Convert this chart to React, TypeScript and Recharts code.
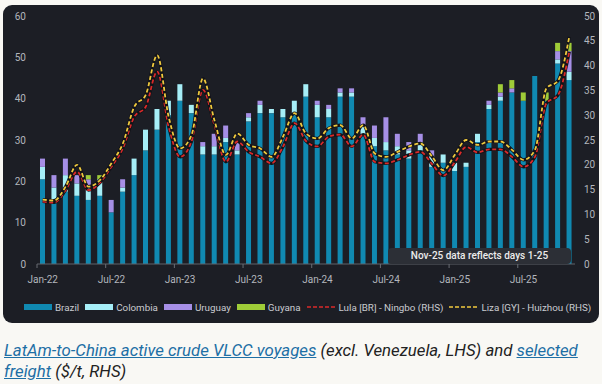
import { ComposedChart, Bar, Line, XAxis, YAxis } from "recharts"

// month categories, Jan-22 .. Nov-25
const months = [
  "Jan-22", "Feb-22", "Mar-22", "Apr-22", "May-22", "Jun-22", "Jul-22", "Aug-22", "Sep-22", "Oct-22", "Nov-22", "Dec-22",
  "Jan-23", "Feb-23", "Mar-23", "Apr-23", "May-23", "Jun-23", "Jul-23", "Aug-23", "Sep-23", "Oct-23", "Nov-23", "Dec-23",
  "Jan-24", "Feb-24", "Mar-24", "Apr-24", "May-24", "Jun-24", "Jul-24", "Aug-24", "Sep-24", "Oct-24", "Nov-24", "Dec-24",
  "Jan-25", "Feb-25", "Mar-25", "Apr-25", "May-25", "Jun-25", "Jul-25", "Aug-25", "Sep-25", "Oct-25", "Nov-25",
]

// active VLCC voyages (LHS)
const brazil = [
  20.5, 15, 17.5, 16.5, 15.5, 16.5, 12.5, 17.5, 21.5, 27.5, 32.5, 36,
  39.5, 36.5, 26.5, 26.5, 29.5, 26.5, 34.5, 36.5, 36.5, 35.5, 36.5, 40.5,
  35.5, 35.5, 40.5, 40.5, 31.5, 28.5, 27.5, 26.5, 25.5, 27.5, 23.5, 24.5,
  22.5, 23.5, 29.5, 37.5, 39.5, 41.5, 39.5, 45.5, 39.5, 48.5, 44.5,
]
const colombia = [
  3, 3.5, 4, 3, 3, 4, 0, 1, 4, 5, 5, 3.5,
  4, 2, 2, 2, 1, 1, 1, 2, 1, 2, 3, 3,
  3, 2, 1, 1, 2, 2, 2, 2, 2, 2, 2.5, 2,
  2, 1, 2, 1, 1, 0, 0, 0, 0, 1, 2,
]
const uruguay = [
  2, 3, 4, 2, 2, 0, 3, 2, 0, 0, 0, 0,
  0, 0, 1, 3, 3, 2, 1, 1, 0, 0, 0, 0,
  1, 1, 1, 1, 2, 3, 6, 3, 2, 2, 1.5, 0,
  0, 0, 0, 1, 1, 1, 0, 0, 0, 2, 5,
]
const guyana = [
  0, 0, 0, 0, 1, 1, 0, 0, 0, 0, 0, 0,
  0, 0, 0, 0, 0, 0, 0, 0, 0, 0, 0, 0,
  0, 0, 0, 0, 0, 0, 0, 0, 0, 0, 0, 0,
  0, 0, 0, 0, 2, 2, 2, 0, 2, 2, 2,
]

// freight $/t (RHS)
const lula = [
  12.6, 12.4, 14.9, 18.6, 14.9, 16.4, 19.6, 23.3, 29.7, 31.7, 38.8, 27.7,
  21.6, 24.7, 35.1, 28.0, 20.6, 24.7, 22.6, 21.6, 20.3, 23.7, 28.4, 24.8,
  23.7, 25.7, 26.1, 23.7, 26.1, 20.6, 20.3, 21.0, 22.0, 22.6, 20.2, 17.8,
  20.5, 23.6, 22.5, 23.1, 23.1, 21.6, 19.6, 21.6, 32.4, 34.0, 42.8,
]
const liza = [
  13.0, 12.8, 15.6, 20.0, 15.6, 16.9, 20.3, 24.3, 31.7, 34.1, 42.1, 29.7,
  23.3, 26.0, 37.4, 29.0, 22.0, 26.3, 24.0, 23.3, 21.6, 25.7, 30.4, 26.3,
  25.3, 27.4, 28.0, 25.3, 28.0, 22.3, 21.6, 22.6, 23.7, 24.3, 21.7, 18.9,
  22.0, 25.0, 24.0, 24.7, 24.7, 23.0, 21.0, 23.0, 35.4, 36.9, 45.8,
]

const leftTicks = [0, 10, 20, 30, 40, 50, 60]
const rightTicks = [0, 5, 10, 15, 20, 25, 30, 35, 40, 45, 50]
const monthTicks = ["Jan-22", "Jul-22", "Jan-23", "Jul-23", "Jan-24", "Jul-24", "Jan-25", "Jul-25"]

const data = months.map((m, i) => ({
  month: m,
  brazil: brazil[i],
  colombia: colombia[i],
  uruguay: uruguay[i],
  guyana: guyana[i],
  lula: lula[i],
  liza: liza[i],
}))

const C_BRAZIL = "#1089b1"
const C_COLOMBIA = "#a6eef7"
const C_URUGUAY = "#a68fe6"
const C_GUYANA = "#9fcc38"
const C_LULA = "#d92a2a"
const C_LIZA = "#efc93e"
const C_AXIS = "#b3b6bd"
const C_LINK = "#1d6fa5"

const CHART_W = 602
const LEFT_W = 37
const RIGHT_W = 27
const BAND = (CHART_W - LEFT_W - RIGHT_W) / months.length

const legendItems = [
  { label: "Brazil", color: C_BRAZIL, dash: false },
  { label: "Colombia", color: C_COLOMBIA, dash: false },
  { label: "Uruguay", color: C_URUGUAY, dash: false },
  { label: "Guyana", color: C_GUYANA, dash: false },
  { label: "Lula [BR] - Ningbo (RHS)", color: C_LULA, dash: true },
  { label: "Liza [GY] - Huizhou (RHS)", color: C_LIZA, dash: true },
]

const MonthTick = (props: any) => {
  const { x, y, payload } = props
  const tx = x - BAND / 2
  return (
    <g>
      <line x1={tx} x2={tx} y1={y} y2={y + 4} stroke="#6a6d74" strokeWidth={1} />
      <text x={x} y={y + 19} textAnchor="middle" fill={C_AXIS} fontSize={10} fontFamily="Roboto, sans-serif">
        {payload.value}
      </text>
    </g>
  )
}

export default function App() {
  return (
    <div style={{ position: "relative", width: 602, height: 384, background: "#f9f8f4", fontFamily: "Roboto, sans-serif", overflow: "hidden" }}>
      <style>{`body{margin:0}`}</style>
      <div style={{ position: "absolute", left: 3, top: 5, width: 596, height: 318, background: "#1c1e25", borderRadius: 9 }} />

      <div style={{ position: "absolute", left: 0, top: 0 }}>
        <ComposedChart width={CHART_W} height={300} data={data} margin={{ top: 16, right: 0, bottom: 0, left: 0 }}>
          <XAxis
            dataKey="month"
            ticks={monthTicks}
            interval={0}
            height={36}
            tickLine={false}
            tickSize={0}
            tickMargin={0}
            axisLine={{ stroke: "#5f636b" }}
            tick={<MonthTick />}
          />
          <YAxis
            yAxisId="left"
            orientation="left"
            width={LEFT_W}
            domain={[0, 60]}
            ticks={leftTicks}
            axisLine={false}
            tickLine={false}
            tickSize={0}
            tickMargin={11}
            tick={{ fill: C_AXIS, fontSize: 10 }}
          />
          <YAxis
            yAxisId="right"
            orientation="right"
            width={RIGHT_W}
            domain={[0, 50]}
            ticks={rightTicks}
            axisLine={false}
            tickLine={false}
            tickSize={0}
            tickMargin={9}
            tick={{ fill: C_AXIS, fontSize: 10, textAnchor: "start" }}
          />
          <Bar yAxisId="left" dataKey="brazil" stackId="v" fill={C_BRAZIL} barSize={5} isAnimationActive={false} />
          <Bar yAxisId="left" dataKey="colombia" stackId="v" fill={C_COLOMBIA} barSize={5} isAnimationActive={false} />
          <Bar yAxisId="left" dataKey="uruguay" stackId="v" fill={C_URUGUAY} barSize={5} isAnimationActive={false} />
          <Bar yAxisId="left" dataKey="guyana" stackId="v" fill={C_GUYANA} barSize={5} isAnimationActive={false} />

          <Line yAxisId="right" type="monotone" dataKey="lula" stroke="#121318" strokeWidth={3.2} dot={false} isAnimationActive={false} />
          <Line yAxisId="right" type="monotone" dataKey="lula" stroke={C_LULA} strokeWidth={1.8} strokeDasharray="4 2.5" dot={false} isAnimationActive={false} />
          <Line yAxisId="right" type="monotone" dataKey="liza" stroke="#121318" strokeWidth={3.2} dot={false} isAnimationActive={false} />
          <Line yAxisId="right" type="monotone" dataKey="liza" stroke={C_LIZA} strokeWidth={1.8} strokeDasharray="4 2.5" dot={false} isAnimationActive={false} />
        </ComposedChart>
      </div>

      <div
        style={{
          position: "absolute", left: 388, top: 248, width: 183, height: 16, background: "#2c2f36", borderRadius: 4,
          color: "#ececec", fontSize: 10, fontWeight: 500, lineHeight: "16px", textAlign: "center",
        }}
      >
        Nov-25 data reflects days 1-25
      </div>

      <div style={{ position: "absolute", left: 24, top: 300, height: 14, display: "flex", alignItems: "center" }}>
        {legendItems.map((it) => (
          <div key={it.label} style={{ display: "flex", alignItems: "center", marginRight: 6 }}>
            {it.dash ? (
              <svg width={29} height={6}>
                <line x1={0} x2={29} y1={3} y2={3} stroke={it.color} strokeWidth={1.6} strokeDasharray="4 2" />
              </svg>
            ) : (
              <div style={{ width: 28, height: 6, background: it.color }} />
            )}
            <span style={{ marginLeft: 3, fontSize: 9.8, color: "#c9cbd0", whiteSpace: "nowrap" }}>{it.label}</span>
          </div>
        ))}
      </div>

      <div style={{ position: "absolute", left: 4, top: 340, width: 598, fontSize: 16.8, fontStyle: "italic", lineHeight: "21px", color: "#222" }}>
        <span style={{ color: C_LINK, textDecoration: "underline" }}>LatAm-to-China active crude VLCC voyages</span>
        {" (excl. Venezuela, LHS) and "}
        <span style={{ color: C_LINK, textDecoration: "underline" }}>selected</span>
        <br />
        <span style={{ color: C_LINK, textDecoration: "underline" }}>freight</span>
        {" ($/t, RHS)"}
      </div>
    </div>
  )
}
